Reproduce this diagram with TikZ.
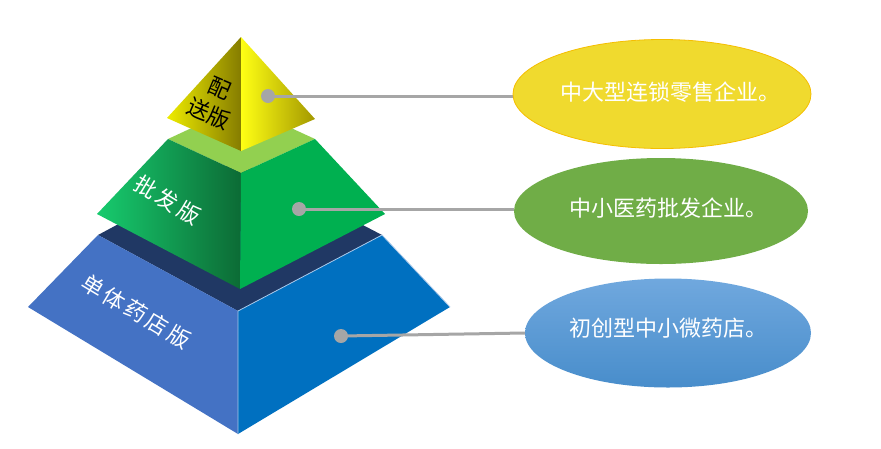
\documentclass[tikz,border=0pt]{standalone}
\usepackage{fontspec}
\newfontfamily\cjk{Noto Sans CJK SC}
\usetikzlibrary{shapes.geometric}
\pgfdeclarelayer{pyr}
\pgfdeclarelayer{conn}
\pgfsetlayers{pyr,conn,main}
\definecolor{navy}{HTML}{203864}
\definecolor{blueL}{HTML}{4472C4}
\definecolor{blueR}{HTML}{0070C0}
\definecolor{edgeL}{HTML}{A9C8EA}
\definecolor{grTop}{HTML}{92D050}
\definecolor{grR}{HTML}{00B050}
\definecolor{grA}{HTML}{17CB6E}
\definecolor{grB}{HTML}{0C6B35}
\definecolor{yA}{HTML}{EEEC00}
\definecolor{yM}{HTML}{C8C200}
\definecolor{yB}{HTML}{857C00}
\definecolor{yC}{HTML}{FFFF14}
\definecolor{yD}{HTML}{F0EC08}
\definecolor{yE}{HTML}{A39800}
\definecolor{conn}{HTML}{A6A6A6}
\definecolor{ellY}{HTML}{F0DA2E}
\definecolor{ellYb}{HTML}{F5BE00}
\definecolor{ellG}{HTML}{70AD47}
\definecolor{ellBt}{HTML}{70A8DE}
\definecolor{ellBb}{HTML}{488DCB}
\begin{document}
\begin{tikzpicture}[x=1pt,y=-1pt,
  dotnode/.style={circle,fill=conn,inner sep=0pt,minimum size=14pt},
  connline/.style={draw=conn,line width=3pt},
  ellnode/.style={ellipse,inner sep=0pt},
  elltext/.style={text=white,font=\cjk\fontsize{22}{26}\selectfont,inner sep=0pt},
  pyrtext/.style={text=white,font=\cjk\fontsize{22}{26}\selectfont\addfontfeature{LetterSpace=14},inner sep=0pt},
  lightedge/.style={draw=edgeL,line width=0.8pt}
]
\useasboundingbox (0,0) rectangle (881,448);

\begin{pgfonlayer}{pyr}
\fill[white] (0,0) rectangle (881,448);
% bottom tier (blue)
\fill[navy] (98,235) -- (238,160) -- (382,235) -- (238,311) -- cycle;
\fill[blueL] (98,235) -- (238,311) -- (238,434) -- (28,307) -- cycle;
\fill[blueR] (238,311) -- (382,235) -- (450,307) -- (238,434) -- cycle;
\draw[lightedge] (238,434) -- (238,311) -- (382,235) -- (450,307);
% middle tier (green)
\fill[grTop] (168,139) -- (241,105) -- (315,139) -- (241,173) -- cycle;
\shade[left color=grA,right color=grB] (168,139) -- (241,173) -- (240,289) -- (97,214) -- cycle;
\fill[grR] (241,173) -- (315,139) -- (385,214) -- (240,289) -- cycle;
% top tier (yellow)
\shade[left color=yA,middle color=yM,right color=yB] (241,37) -- (241,151) -- (167,118) -- cycle;
\shade[left color=yC,middle color=yD,right color=yE] (241,37) -- (315,119) -- (241,151) -- cycle;
% labels on the pyramid
\node[font=\cjk\fontsize{22}{28}\selectfont,text=black,align=center,rotate=-23,inner sep=0pt] (t1) at (214,101) {配\\送版};
\node[pyrtext,rotate=-31] (t2) at (167.5,200) {批发版};
\node[pyrtext,rotate=-31] (t3) at (136,311.5) {单体药店版};
\end{pgfonlayer}

% ellipses
\node[ellnode,fill=ellY,draw=ellYb,line width=0.8pt,minimum width=298pt,minimum height=109pt] (e1) at (662,94) {};
\node[ellnode,fill=ellG,minimum width=294pt,minimum height=106pt] (e2) at (661,211) {};
\node[ellnode,top color=ellBt,bottom color=ellBb,minimum width=286pt,minimum height=109pt] (e3) at (668,333) {};

% dots
\node[dotnode] (p1) at (268,96) {};
\node[dotnode] (p2) at (299,209) {};
\node[dotnode] (p3) at (341,336) {};

% connectors
\begin{pgfonlayer}{conn}
\path[connline] (p1.center) -- (p1.center -| e1.west);
\path[connline] (p2.center) -- (p2.center -| e2.west);
\path[connline] (p3.center) -- (e3.west);
\end{pgfonlayer}

\node[elltext] (l1) at (670,92) {中大型连锁零售企业。};
\node[elltext] (l2) at (668,208) {中小医药批发企业。};
\node[elltext] (l3) at (668,328.5) {初创型中小微药店。};
\end{tikzpicture}
\end{document}
